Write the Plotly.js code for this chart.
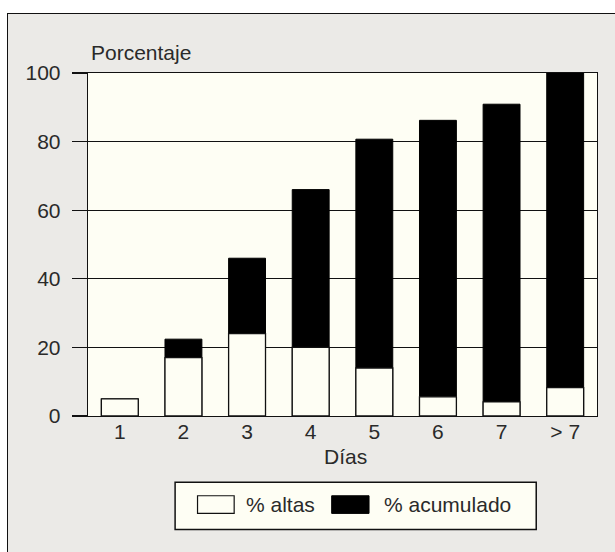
<!DOCTYPE html>
<html>
<head>
<meta charset="utf-8">
<script src="https://cdn.plot.ly/plotly-3.0.1.min.js"></script>
<style>
  html, body { margin: 0; padding: 0; background: #ffffff; width: 615px; height: 552px; overflow: hidden; }
  #frame { position: absolute; left: 7px; top: 13px; border-left: 1px solid #111; border-top: 1px solid #111; width: 608px; height: 539px; }
  #chart { width: 608px; height: 539px; }
</style>
</head>
<body>
<div id="frame"><div id="chart"></div></div>
<script>
// ---- data ----
const dias = ["1", "2", "3", "4", "5", "6", "7", "> 7"];
const altas = [5, 17, 24, 20, 14, 5.6, 4.1, 8.3];
const acumulado = [5, 22.4, 46, 66, 80.7, 86.2, 90.9, 100];
const yTicks = [0, 20, 40, 60, 80, 100];

// ---- layout geometry (page pixels) ----
const OX = 8, OY = 14;            // origin of the plot div on the page
const W = 608, H = 539;
const L = 88.3 - OX, R = W - (596.7 - OX), T = 73.3 - OY, B = H - (416 - OY);
const PW = W - L - R, PH = H - T - B;
const px = x => (x - OX - L) / PW;
const py = y => (H - B - (y - OY)) / PH;

const FONT = "Liberation Sans, Arial, Helvetica, sans-serif";
const TXT = "#2a2a2a";
const FS = 21;
const CREAM = "#fefef4";
const GRAY = "#ebeae7";

const traces = [
  {
    type: "bar", name: "% acumulado", x: dias, y: acumulado, width: 0.58,
    marker: { color: "#000000", line: { color: "#000000", width: 1 } },
    hoverinfo: "x+y", cliponaxis: false
  },
  {
    type: "bar", name: "% altas", x: dias, y: altas, width: 0.58,
    marker: { color: CREAM, line: { color: "#111111", width: 1.3 } },
    hoverinfo: "x+y", cliponaxis: false
  }
];

const shapes = [
  // legend box
  { type: "rect", xref: "paper", yref: "paper", x0: px(175.3), x1: px(536), y0: py(529.3), y1: py(482.3),
    fillcolor: CREAM, line: { color: "#111", width: 1.5 } },
  // white swatch
  { type: "rect", xref: "paper", yref: "paper", x0: px(197.7), x1: px(234.3), y0: py(513.3), y1: py(495.7),
    fillcolor: CREAM, line: { color: "#111", width: 1.2 } },
  // black swatch
  { type: "rect", xref: "paper", yref: "paper", x0: px(331.7), x1: px(369), y0: py(513.3), y1: py(495.7),
    fillcolor: "#000", line: { color: "#000", width: 1 } }
];

const annotations = [
  { text: "Porcentaje", xref: "paper", yref: "paper", x: px(89), y: py(53), xanchor: "left", yanchor: "middle",
    showarrow: false, font: { family: FONT, size: FS, color: TXT } },
  { text: "Días", xref: "paper", yref: "paper", x: px(345), y: py(456.7), xanchor: "center", yanchor: "middle",
    showarrow: false, font: { family: FONT, size: FS, color: TXT } },
  { text: "% altas", xref: "paper", yref: "paper", x: px(244), y: py(504.5), xanchor: "left", yanchor: "middle",
    showarrow: false, font: { family: FONT, size: FS, color: TXT } },
  { text: "% acumulado", xref: "paper", yref: "paper", x: px(382), y: py(504.5), xanchor: "left", yanchor: "middle",
    showarrow: false, font: { family: FONT, size: FS, color: TXT } }
];

const layout = {
  width: W, height: H,
  margin: { l: L, r: R, t: T, b: B, pad: 0 },
  paper_bgcolor: GRAY, plot_bgcolor: CREAM,
  barmode: "overlay",
  showlegend: false,
  font: { family: FONT, size: FS, color: TXT },
  xaxis: {
    type: "category", categoryorder: "array", categoryarray: dias,
    showline: true, linecolor: "#111", linewidth: 1.3, mirror: true,
    ticks: "", showgrid: false, zeroline: false,
    ticklabelstandoff: -4,
    tickfont: { family: FONT, size: FS, color: TXT }, fixedrange: true
  },
  yaxis: {
    range: [0, 100], tickvals: yTicks, ticktext: yTicks.map(String),
    showline: true, linecolor: "#111", linewidth: 1.3, mirror: true,
    ticks: "outside", ticklen: 15, tickwidth: 1.3, tickcolor: "#111",
    showgrid: true, gridcolor: "#111", gridwidth: 1.2, zeroline: false,
    ticklabelstandoff: 7,
    tickfont: { family: FONT, size: FS, color: TXT }, fixedrange: true
  },
  shapes: shapes,
  annotations: annotations
};

Plotly.newPlot("chart", traces, layout, { displayModeBar: false, staticPlot: true });
</script>
</body>
</html>
